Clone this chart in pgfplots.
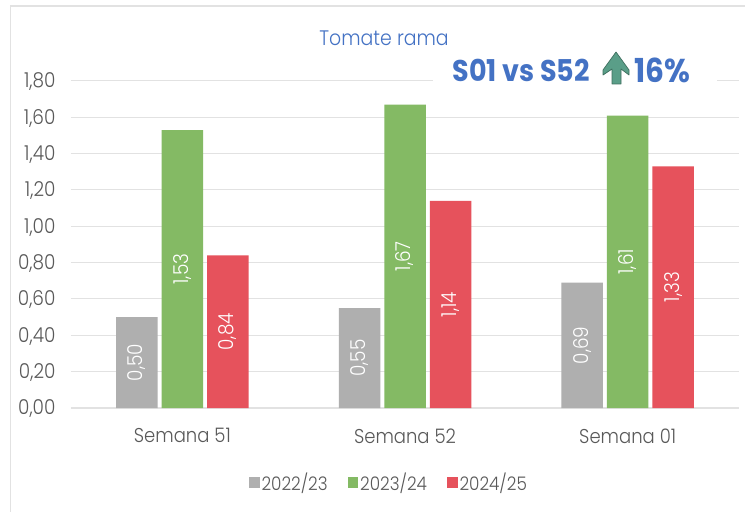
\documentclass[border=0pt]{standalone}
\usepackage{pgfplots}
\pgfplotsset{compat=1.18}
\usepackage{fontspec}
\setmainfont[UprightFont=* Light,BoldFont=* Bold,FakeStretch=0.9]{Poppins}
\definecolor{cgray}{HTML}{AFAFAF}
\definecolor{cgreen}{HTML}{84BA64}
\definecolor{cred}{HTML}{E6525C}
\definecolor{ctxt}{HTML}{595959}
\definecolor{cblue}{HTML}{4472C4}
\definecolor{cgrid}{HTML}{E2E2E2}
\definecolor{carrow}{HTML}{5A9E88}
\begin{document}
\begin{tikzpicture}[x=1pt,y=1pt]
\useasboundingbox (0,0) rectangle (745,512);
\fill[white] (0,0) rectangle (745,512);
\draw[color=cgrid,line width=1.5pt] (10.5,0) -- (10.5,506) -- (745,506);
\begin{axis}[
  at={(71pt,104pt)},anchor=south west,
  scale only axis,width=668pt,height=327pt,
  ymin=0,ymax=1.8,xmin=-0.5,xmax=2.5,
  ybar=4pt,bar width=41.5pt,
  axis x line*=bottom,axis y line*=left,
  axis line style={draw=cgrid,line width=1.5pt},
  y axis line style={draw=none},
  ytick={0,0.2,0.4,0.6,0.8,1,1.2,1.4,1.6,1.8},
  xtick={0,1,2},xticklabels={Semana 51,Semana 52,Semana 01},
  major tick length=0pt,
  ymajorgrids,grid style={draw=cgrid,line width=1pt},
  /pgf/number format/assume math mode=true,
  /pgf/number format/use comma,/pgf/number format/fixed,/pgf/number format/fixed zerofill,/pgf/number format/precision=2,
  tick label style={text=ctxt,font=\fontsize{20.5}{22}\selectfont},
  yticklabel style={xshift=-12pt,yshift=-1pt},
  xticklabel style={yshift=-17pt,font=\fontsize{20}{22}\selectfont},
  point meta=y,
  visualization depends on={rawy \as \ry},
  nodes near coords,
  every node near coord/.append style={yshift={-\ry*90.83pt},anchor=center,rotate=90,text=white,font=\fontsize{20.5}{22}\selectfont},
  area legend,
  legend style={at={(0.476,-0.2264)},anchor=center,draw=none,fill=none,legend columns=3,font=\fontsize{18.7}{20}\selectfont,text=ctxt,/tikz/every even column/.append style={column sep=18pt}},
  legend image code/.code={\fill[#1] (0pt,-5.5pt) rectangle (10.5pt,5.5pt);},
]
\addplot[fill=cgray,draw=none] coordinates {(0,0.50) (1,0.55) (2,0.69)};
\addplot[fill=cgreen,draw=none] coordinates {(0,1.53) (1,1.67) (2,1.61)};
\addplot[fill=cred,draw=none] coordinates {(0,0.84) (1,1.14) (2,1.33)};
\legend{2022/23,2023/24,2024/25}
\end{axis}
\fill[white] (433,428) rectangle (717,476);
\node[text=cblue,font=\fontsize{21}{24}\selectfont] at (384,473.5) {Tomate rama};
\node[text=cblue,font=\fontsize{30}{32}\bfseries,anchor=west] at (449,442) {S01 vs S52};
\node[text=cblue,font=\fontsize{33}{35}\bfseries,anchor=west] at (631,442) {16\%};
\filldraw[fill=carrow,draw=carrow!70!black,line width=0.7pt,line join=round] (616,460) -- (603,442) -- (603,437) -- (612,443) -- (612,428) -- (621,428) -- (621,443) -- (629,437) -- (629,442) -- cycle;
\end{tikzpicture}
\end{document}
